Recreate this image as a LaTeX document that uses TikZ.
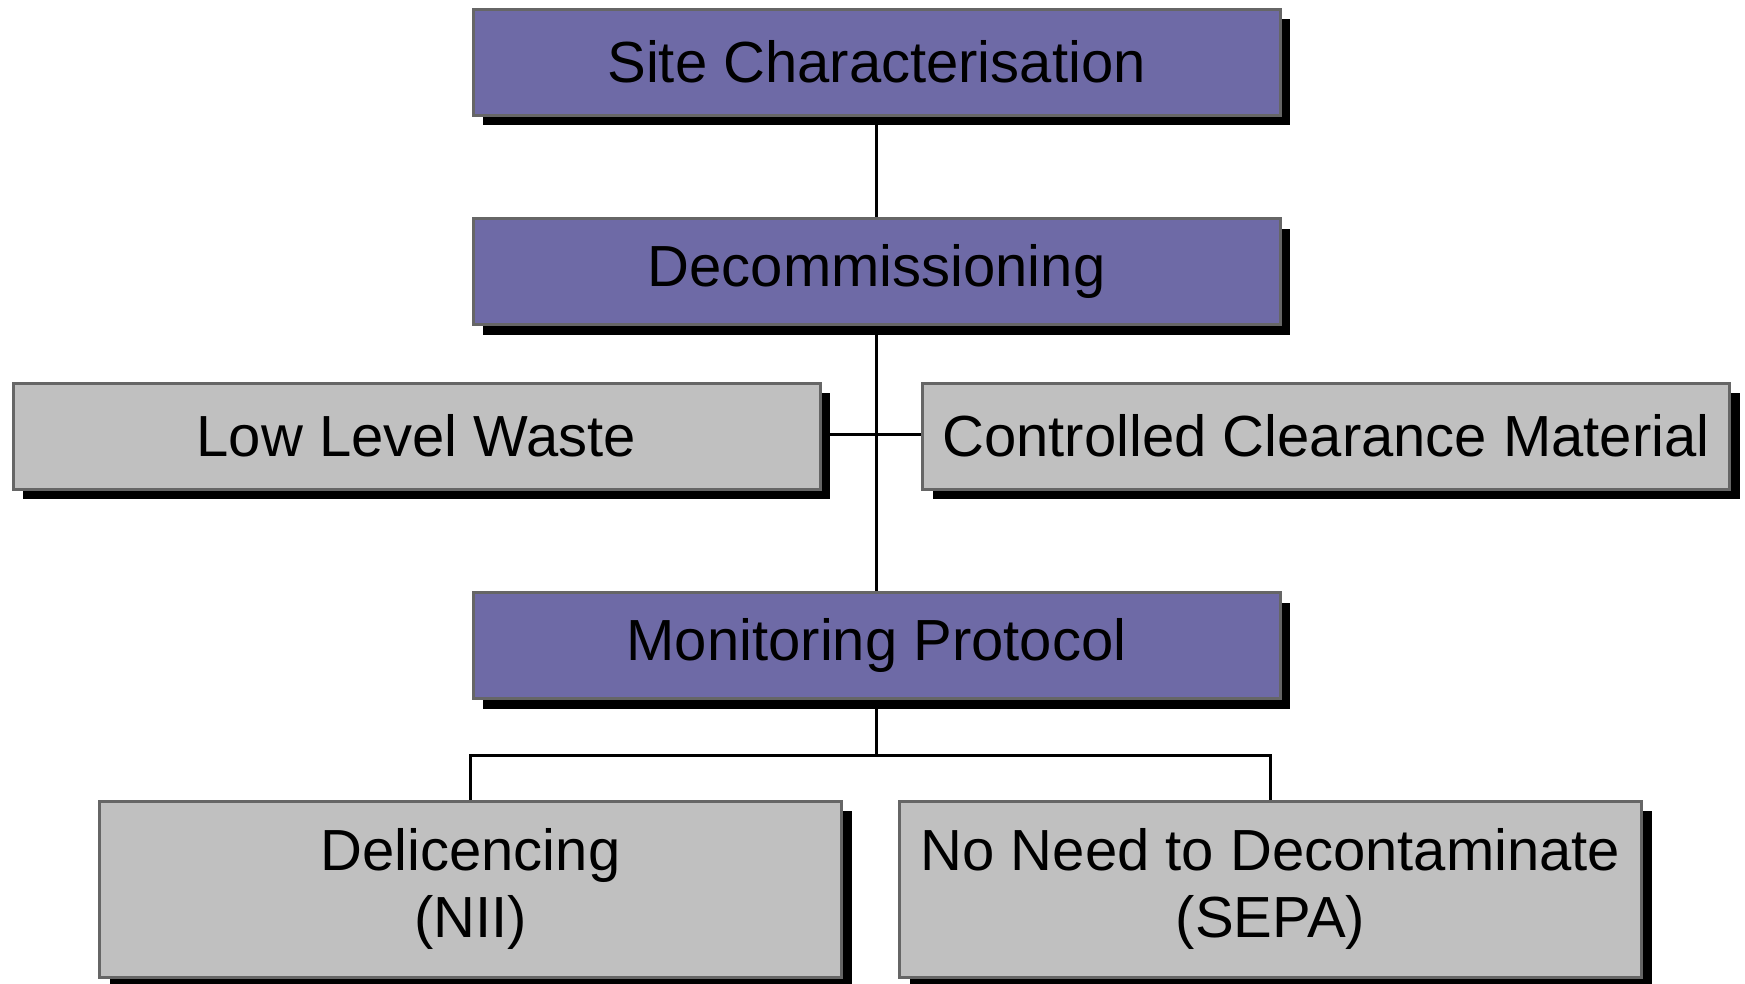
\documentclass[tikz,border=0pt]{standalone}
\usepackage{fontspec}
\setmainfont{Liberation Sans}
\usetikzlibrary{shadows}
\definecolor{stagefill}{HTML}{6E6AA6}
\definecolor{outcomefill}{HTML}{C0C0C0}
\definecolor{boxedge}{HTML}{666666}
\tikzset{
  card/.style={draw=boxedge, line width=3pt, inner sep=0pt, align=center,
    font=\fontsize{58}{67}\selectfont,
    drop shadow={shadow xshift=10pt, shadow yshift=-10pt, fill=black, opacity=1}},
  stage/.style={card, fill=stagefill, minimum width=807pt, minimum height=106pt},
  outcome/.style={card, fill=outcomefill, minimum width=807pt, minimum height=106pt},
  verdict/.style={card, fill=outcomefill, minimum width=742pt, minimum height=176pt},
  link/.style={line width=3pt, black}
}
\begin{document}
\begin{tikzpicture}[x=1pt, y=-1pt]
\useasboundingbox (0,0) rectangle (1745,983);
% connectors first, boxes on top
\coordinate (fork) at (876.5,755);
\coordinate (leftdrop) at (470.5,755);
\coordinate (rightdrop) at (1270.5,755);
\coordinate (llwend) at (820,434);
\coordinate (ccmend) at (923,434);
\draw[link] (876.5,115) -- (876.5,218);
\draw[link] (876.5,325) -- (876.5,592);
\draw[link] (llwend) -- (ccmend);
\draw[link] (876.5,699) -- (fork);
\draw[link] (470.5,801) -- (leftdrop) -- (rightdrop) -- (1270.5,801);
% boxes
\node[stage] (site) at (876.5,62) {Site Characterisation};
\node[stage] (decom) at (876.5,271.5) {Decommissioning};
\node[outcome] (llw) at (416.5,436) {Low Level Waste};
\node[outcome] (ccm) at (1326,436) {Controlled Clearance Material};
\node[stage] (mon) at (876.5,645.5) {Monitoring Protocol};
\node[verdict] (delic) at (470.5,889) {Delicencing\\(NII)};
\node[verdict] (nodecon) at (1270.5,889) {No Need to Decontaminate\\(SEPA)};
\end{tikzpicture}
\end{document}
